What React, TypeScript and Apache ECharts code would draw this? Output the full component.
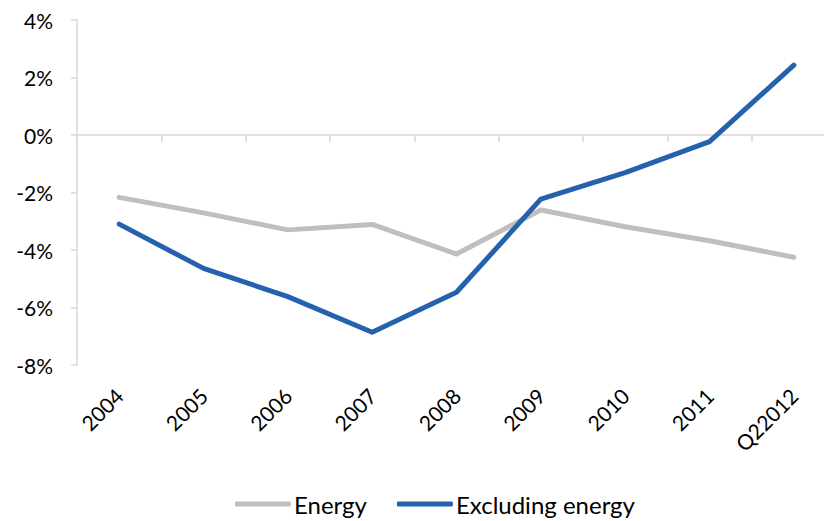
import React, { useEffect, useRef } from "react";
import * as echarts from "echarts";

const categories = ["2004", "2005", "2006", "2007", "2008", "2009", "2010", "2011", "Q22012"];
const energy = [-2.17, -2.71, -3.3, -3.11, -4.14, -2.61, -3.19, -3.68, -4.25];
const excludingEnergy = [-3.1, -4.64, -5.62, -6.86, -5.47, -2.23, -1.31, -0.23, 2.43];
const yTicks = { min: -8, max: 4, interval: 2 };

const FONT = "Lato, 'Noto Sans', sans-serif";

export default function App() {
  const ref = useRef<HTMLDivElement>(null);
  useEffect(() => {
    document.body.style.margin = "0";
    const chart = echarts.init(ref.current!, null, { renderer: "svg" });
    chart.setOption({
      animation: false,
      textStyle: { fontFamily: FONT },
      grid: { left: 77, top: 20, bottom: 156, right: 4 },
      legend: {
        bottom: 0,
        left: 230,
        data: ["Energy", "Excluding energy"],
        icon: "roundRect",
        itemWidth: 56,
        itemHeight: 5,
        itemGap: 30,
        textStyle: { fontSize: 24, color: "#000", fontFamily: FONT, padding: [0, 0, 0, -2] },
      },
      xAxis: [
        {
          type: "category",
          data: categories,
          boundaryGap: true,
          axisLine: { show: true, onZero: true, lineStyle: { color: "#d9d9d9", width: 1.5 } },
          axisTick: { show: true, length: 7, lineStyle: { color: "#d9d9d9", width: 1.5 } },
          axisLabel: { show: false },
          splitLine: { show: false },
        },
        {
          type: "category",
          data: categories,
          position: "bottom",
          boundaryGap: true,
          axisLine: { show: false, onZero: false },
          axisTick: { show: false },
          axisLabel: {
            rotate: 45,
            margin: 27,
            fontSize: 21,
            color: "#000",
            fontFamily: FONT,
          },
          splitLine: { show: false },
        },
      ],
      yAxis: {
        type: "value",
        min: yTicks.min,
        max: yTicks.max,
        interval: yTicks.interval,
        axisLine: { show: true, lineStyle: { color: "#d9d9d9", width: 1.5 } },
        axisTick: { show: true, length: 6, lineStyle: { color: "#d9d9d9", width: 1.5 } },
        splitLine: { show: false },
        axisLabel: {
          formatter: (v: number) => `${v}%`,
          fontSize: 21,
          color: "#000",
          margin: 24,
          fontFamily: FONT,
        },
      },
      series: [
        {
          name: "Energy",
          type: "line",
          data: energy,
          symbol: "none",
          lineStyle: { color: "#bfbfbf", width: 5, cap: "round", join: "round" },
          itemStyle: { color: "#bfbfbf" },
          z: 2,
        },
        {
          name: "Excluding energy",
          type: "line",
          data: excludingEnergy,
          symbol: "none",
          lineStyle: { color: "#2562ae", width: 5, cap: "round", join: "round" },
          itemStyle: { color: "#2562ae" },
          z: 3,
        },
      ],
    });
    return () => chart.dispose();
  }, []);
  return (
    <div style={{ width: 824, height: 521, overflow: "hidden", position: "relative" }}>
      <div ref={ref} style={{ width: 840, height: 521 }} />
    </div>
  );
}
